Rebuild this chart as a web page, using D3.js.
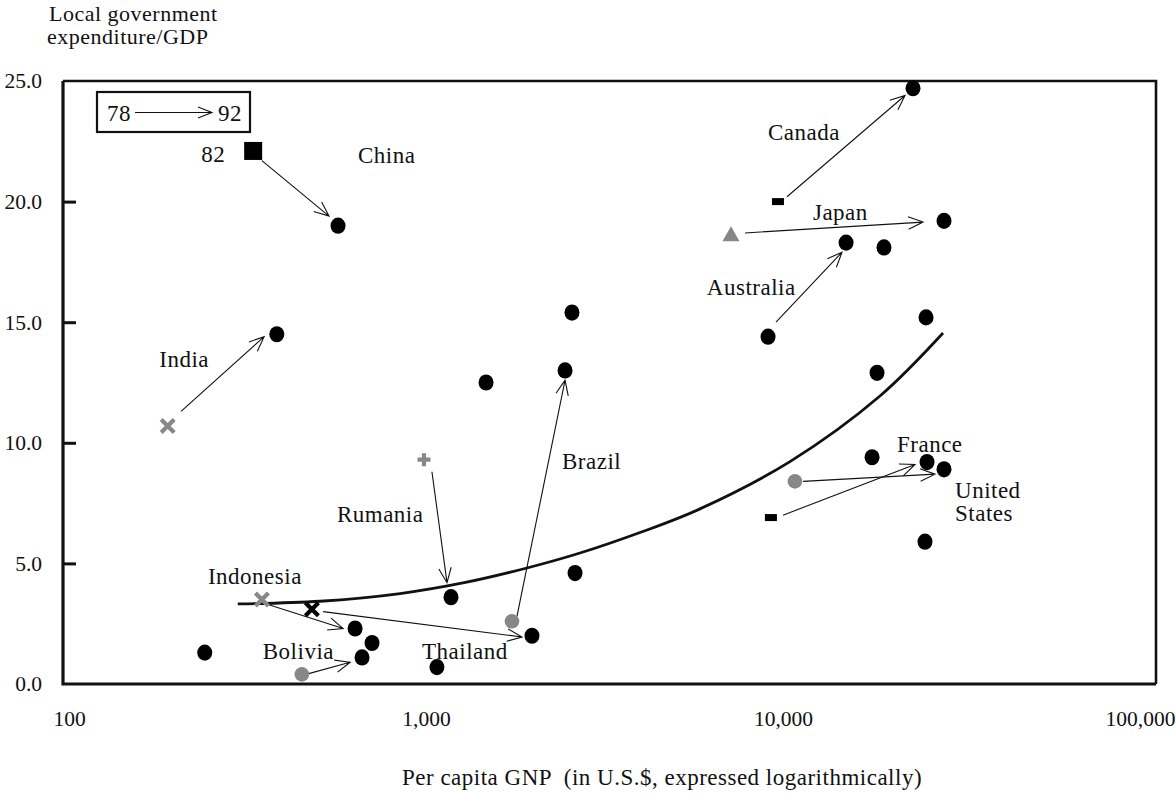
<!DOCTYPE html>
<html>
<head>
<meta charset="utf-8">
<script src="https://cdn.jsdelivr.net/npm/d3@7/dist/d3.min.js"></script>
<style>
  html, body { margin: 0; padding: 0; background: #fff; }
  svg text { font-family: "Liberation Serif", "Times New Roman", serif; font-size: 23px; fill: #111; letter-spacing: 0.5px; }
  svg .tick text { font-size: 21.5px; letter-spacing: 0; }
</style>
</head>
<body>
<svg id="chart" width="1176" height="794"></svg>
<script>
// axis ticks
var gnpTicks = [100, 1000, 10000, 100000];
var shareTicks = [0, 5, 10, 15, 20, 25];

// [per capita GNP, local govt expenditure / GDP]
var blackDots = [
  [567, 19.0], [23130, 24.7], [28250, 19.2], [15020, 18.3], [19180, 18.1],
  [9080, 14.4], [25160, 15.2], [18340, 12.9], [382, 14.5], [1473, 12.5],
  [2564, 15.4], [2452, 13.0], [17760, 9.4], [25320, 9.2], [28250, 8.9],
  [24990, 5.9], [2615, 4.6], [1175, 3.6], [633, 2.3], [706, 1.7],
  [662, 1.1], [240, 1.3], [1073, 0.7], [1981, 2.0]
];
var grayDots = [[449, 0.4], [1741, 2.6], [10800, 8.4]];
var grayCrosses = [[189, 10.7], [347, 3.5]];
var blackCrosses = [[479, 3.1]];
var grayPluses = [[987, 9.3]];
var grayTriangles = [[7150, 18.6]];
var blackBars = [[9680, 20.0], [9250, 6.9]];
var blackSquares = [[328, 22.1]];

// arrows: tail -> tip
var arrows = [
  { from: [347, 21.7], to: [535, 19.4] },      // China
  { from: [10260, 20.2], to: [21970, 24.4] },  // Canada
  { from: [7830, 18.7], to: [24680, 19.15] },  // Japan
  { from: [9560, 15.0], to: [14630, 17.9] },   // Australia
  { from: [206, 11.3], to: [352, 14.4] },      // India
  { from: [1039, 8.8], to: [1145, 4.2] },      // Rumania
  { from: [1798, 2.8], to: [2452, 12.6] },     // Brazil
  { from: [361, 3.3], to: [586, 2.3] },        // Indonesia
  { from: [515, 3.0], to: [1858, 1.95] },      // Thailand
  { from: [461, 0.4], to: [613, 0.9] },        // Bolivia
  { from: [11380, 8.4], to: [26660, 8.7] },    // France
  { from: [10000, 7.0], to: [23430, 9.1] }     // United States
];

// fitted curve
var fitCurve = [
  [297, 3.32], [505, 3.43], [846, 3.75], [1269, 4.19], [1918, 4.81],
  [2700, 5.43], [3976, 6.28], [5855, 7.26], [10460, 9.22],
  [18690, 11.94], [28070, 14.55]
];

// country names, anchored in data units
var countryLabels = [
  { text: "China", at: [645, 21.6] },
  { text: "Canada", at: [9080, 22.55] },
  { text: "Japan", at: [12130, 19.24] },
  { text: "Australia", at: [6120, 16.13] },
  { text: "India", at: [179, 13.14] },
  { text: "Rumania", at: [563, 6.72] },
  { text: "Brazil", at: [2404, 8.91] },
  { text: "Indonesia", at: [245, 4.15] },
  { text: "Bolivia", at: [349, 1.04] },
  { text: "Thailand", at: [975, 1.04] },
  { text: "France", at: [20860, 9.62] },
  { text: "United", at: [30330, 7.71] },
  { text: "States", at: [30330, 6.76] }
];

var GRAY = "#878787";

var svg = d3.select("#chart");

var x = d3.scaleLog().domain([100, 100000]).range([69, 1140]);
var y = d3.scaleLinear().domain([0, 25]).range([684, 81]);

var frame = { left: 63, right: 1156, top: 81, bottom: 684 };

// plot frame: thick left/bottom axes, lighter top/right
svg.append("path")
  .attr("d", "M" + frame.left + "," + frame.top + "H" + frame.right + "V" + frame.bottom)
  .attr("fill", "none").attr("stroke", "#111").attr("stroke-width", 2.6);
svg.append("path")
  .attr("d", "M" + frame.left + "," + frame.top + "V" + frame.bottom + "H" + frame.right)
  .attr("fill", "none").attr("stroke", "#111").attr("stroke-width", 3.2);

// y axis, ticks pointing inward
var yAxis = svg.append("g")
  .attr("transform", "translate(" + frame.left + ",0)")
  .call(d3.axisLeft(y).tickValues(shareTicks).tickFormat(d3.format(".1f")).tickSize(-13).tickPadding(21));
yAxis.select(".domain").remove();
yAxis.selectAll(".tick line")
  .attr("stroke", "#111").attr("stroke-width", 3)
  .attr("display", function (d) { return (d === 0 || d === 25) ? "none" : null; });
yAxis.selectAll("text").attr("font-family", null).attr("font-size", null).attr("fill", "#111");

// x axis, labels only
var xAxis = svg.append("g")
  .attr("transform", "translate(0," + frame.bottom + ")")
  .call(d3.axisBottom(x).tickValues(gnpTicks).tickFormat(d3.format(",")).tickSize(0).tickPadding(27));
xAxis.select(".domain").remove();
xAxis.selectAll("text").attr("font-family", null).attr("font-size", null).attr("fill", "#111");

// axis titles
svg.append("text").attr("x", 49).attr("y", 21).style("font-size", "22px").text("Local government");
svg.append("text").attr("x", 47).attr("y", 44).style("font-size", "22px").text("expenditure/GDP");
svg.append("text").attr("x", 402).attr("y", 785)
  .style("white-space", "pre")
  .text("Per capita GNP  (in U.S.$, expressed logarithmically)");

// fitted curve
var line = d3.line()
  .x(function (d) { return x(d[0]); })
  .y(function (d) { return y(d[1]); })
  .curve(d3.curveCatmullRom.alpha(0.5));

svg.append("path")
  .datum(fitCurve)
  .attr("d", line)
  .attr("fill", "none").attr("stroke", "#111").attr("stroke-width", 2.8);

// open arrowhead helper
function arrowPath(x1, y1, x2, y2, len, spread) {
  var a = Math.atan2(y2 - y1, x2 - x1);
  var b1 = a + Math.PI - spread, b2 = a + Math.PI + spread;
  return "M" + x1 + "," + y1 + "L" + x2 + "," + y2 +
    "M" + (x2 + len * Math.cos(b1)) + "," + (y2 + len * Math.sin(b1)) +
    "L" + x2 + "," + y2 +
    "L" + (x2 + len * Math.cos(b2)) + "," + (y2 + len * Math.sin(b2));
}

svg.append("g").selectAll("path")
  .data(arrows)
  .join("path")
  .attr("d", function (d) {
    return arrowPath(x(d.from[0]), y(d.from[1]), x(d.to[0]), y(d.to[1]), 16, 0.4);
  })
  .attr("fill", "none").attr("stroke", "#111").attr("stroke-width", 1.1);

// markers
svg.append("g").selectAll("ellipse")
  .data(blackDots)
  .join("ellipse")
  .attr("cx", function (d) { return x(d[0]); })
  .attr("cy", function (d) { return y(d[1]); })
  .attr("rx", 7.5).attr("ry", 8.1)
  .attr("fill", "#000");

svg.append("g").selectAll("circle")
  .data(grayDots)
  .join("circle")
  .attr("cx", function (d) { return x(d[0]); })
  .attr("cy", function (d) { return y(d[1]); })
  .attr("r", 7.3)
  .attr("fill", GRAY);

function crossPath(d) {
  var cx = x(d[0]), cy = y(d[1]), s = 6.5;
  return "M" + (cx - s) + "," + (cy - s) + "L" + (cx + s) + "," + (cy + s) +
    "M" + (cx - s) + "," + (cy + s) + "L" + (cx + s) + "," + (cy - s);
}
svg.append("g").selectAll("path")
  .data(grayCrosses)
  .join("path")
  .attr("d", crossPath)
  .attr("stroke", GRAY).attr("stroke-width", 4.2);
svg.append("g").selectAll("path")
  .data(blackCrosses)
  .join("path")
  .attr("d", crossPath)
  .attr("stroke", "#000").attr("stroke-width", 4.2);

svg.append("g").selectAll("path")
  .data(grayPluses)
  .join("path")
  .attr("d", function (d) {
    var cx = x(d[0]), cy = y(d[1]), s = 6.5;
    return "M" + (cx - s) + "," + cy + "H" + (cx + s) + "M" + cx + "," + (cy - s) + "V" + (cy + s);
  })
  .attr("stroke", GRAY).attr("stroke-width", 4.2);

svg.append("g").selectAll("path")
  .data(grayTriangles)
  .join("path")
  .attr("d", function (d) {
    var cx = x(d[0]), cy = y(d[1]);
    return "M" + cx + "," + (cy - 9) + "L" + (cx + 8.5) + "," + (cy + 6) + "L" + (cx - 8.5) + "," + (cy + 6) + "Z";
  })
  .attr("fill", GRAY);

svg.append("g").selectAll("rect")
  .data(blackBars)
  .join("rect")
  .attr("x", function (d) { return x(d[0]) - 6; })
  .attr("y", function (d) { return y(d[1]) - 3.5; })
  .attr("width", 12).attr("height", 7)
  .attr("fill", "#000");

svg.append("g").selectAll("rect")
  .data(blackSquares)
  .join("rect")
  .attr("x", function (d) { return x(d[0]) - 9; })
  .attr("y", function (d) { return y(d[1]) - 9; })
  .attr("width", 18).attr("height", 18)
  .attr("fill", "#000");

// "82" next to the China square
svg.append("text")
  .attr("x", x(blackSquares[0][0]) - 28)
  .attr("y", y(blackSquares[0][1]) + 11)
  .attr("text-anchor", "end")
  .text("82");

// country labels
svg.append("g").selectAll("text")
  .data(countryLabels)
  .join("text")
  .attr("x", function (d) { return x(d.at[0]); })
  .attr("y", function (d) { return y(d.at[1]); })
  .text(function (d) { return d.text; });

// legend box: 78 -> 92
var legend = svg.append("g");
legend.append("rect")
  .attr("x", 97).attr("y", 92).attr("width", 153).attr("height", 40)
  .attr("fill", "none").attr("stroke", "#111").attr("stroke-width", 2.2);
legend.append("text").attr("x", 107).attr("y", 121).text("78");
legend.append("text").attr("x", 218).attr("y", 121).text("92");
legend.append("path")
  .attr("d", arrowPath(135, 112.5, 212, 112.5, 15, 0.38))
  .attr("fill", "none").attr("stroke", "#111").attr("stroke-width", 1.1);
</script>
</body>
</html>
